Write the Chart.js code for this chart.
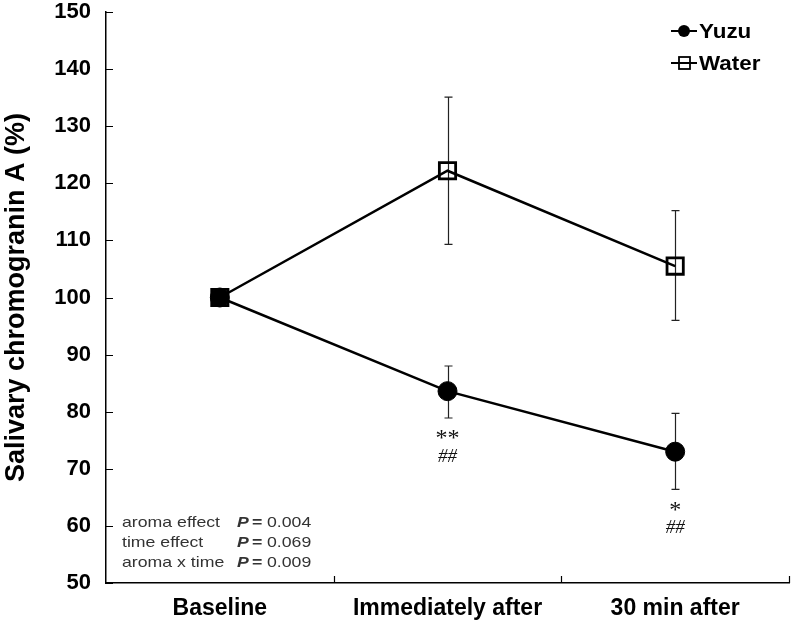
<!DOCTYPE html>
<html>
<head>
<meta charset="utf-8">
<script src="https://cdn.jsdelivr.net/npm/chart.js@4"></script>
<style>
  html, body { margin: 0; padding: 0; background: #fff; }
  #wrap { width: 792px; height: 625px; }
</style>
</head>
<body>
<div id="wrap"><canvas id="chart" width="792" height="625"></canvas></div>
<script>
const categories = ['Baseline', 'Immediately after', '30 min after'];
const yuzu = [100, 83.6, 73.0];
const yuzuErrHigh = [100, 88.0, 79.7];
const yuzuErrLow = [100, 78.9, 66.4];
const water = [100, 122.2, 105.5];
const waterErrHigh = [100, 135.1, 115.2];
const waterErrLow = [100, 109.3, 96.0];
const yuzuMarks = [[], ['**', '##'], ['*', '##']];
const statLabels = ['aroma effect', 'time effect', 'aroma x time'];
const statValues = ['0.004', '0.069', '0.009'];
const yMin = 50, yMax = 150, yStep = 10;

const FONT = '"Liberation Sans", Arial, sans-serif';
const SERIF = '"Liberation Serif", "Times New Roman", serif';

// draw text stretched horizontally (the source figure is a bit wide)
function wideText(ctx, s, x, y, sx) {
  ctx.save();
  ctx.translate(x, y);
  ctx.scale(sx, 1);
  ctx.fillText(s, 0, 0);
  const w = ctx.measureText(s).width * sx;
  ctx.restore();
  return w;
}

const extras = {
  id: 'extras',
  beforeDatasetsDraw(chart) {
    const ctx = chart.ctx;
    const x = chart.scales.x, y = chart.scales.y;
    ctx.save();
    ctx.strokeStyle = '#222';
    ctx.lineWidth = 1.2;
    const bars = [[yuzuErrHigh, yuzuErrLow], [waterErrHigh, waterErrLow]];
    bars.forEach(([hi, lo]) => {
      categories.forEach((c, i) => {
        if (hi[i] === lo[i]) return;
        const px = Math.round(x.getPixelForValue(i)) + 0.5;
        const t = y.getPixelForValue(hi[i]), b = y.getPixelForValue(lo[i]);
        ctx.beginPath();
        ctx.moveTo(px, t); ctx.lineTo(px, b);
        ctx.moveTo(px - 4, t); ctx.lineTo(px + 4, t);
        ctx.moveTo(px - 4, b); ctx.lineTo(px + 4, b);
        ctx.stroke();
      });
    });
    ctx.restore();
  },
  afterDraw(chart) {
    const ctx = chart.ctx;
    const x = chart.scales.x, y = chart.scales.y;
    const area = chart.chartArea;
    ctx.save();
    // inward ticks
    ctx.strokeStyle = '#000';
    ctx.lineWidth = 1.2;
    ctx.beginPath();
    for (let v = yMin; v <= yMax; v += yStep) {
      const py = Math.round(y.getPixelForValue(v)) + 0.5;
      ctx.moveTo(area.left, py); ctx.lineTo(area.left + 7, py);
    }
    for (let i = 1; i <= categories.length; i++) {
      const px = Math.round(x.getPixelForValue(i - 0.5)) + 0.5;
      ctx.moveTo(px, area.bottom); ctx.lineTo(px, area.bottom - 7);
    }
    ctx.stroke();

    // significance marks
    ctx.fillStyle = '#111';
    ctx.textAlign = 'center';
    ctx.textBaseline = 'middle';
    yuzuMarks.forEach((m, i) => {
      if (!m.length) return;
      const px = x.getPixelForValue(i);
      const b = y.getPixelForValue(yuzuErrLow[i]);
      m.forEach(s => {
        const star = s.indexOf('*') >= 0;
        ctx.font = (star ? '24px ' : 'italic 19px ') + SERIF;
        ctx.fillText(s, px, b + (star ? 21 : 39));
      });
    });

    // stats
    ctx.textAlign = 'left';
    ctx.fillStyle = '#333';
    statLabels.forEach((s, k) => {
      const py = 523 + k * 20;
      ctx.font = '14.5px ' + FONT;
      wideText(ctx, s, 122, py, 1.22);
      ctx.font = 'italic bold 14.5px ' + FONT;
      wideText(ctx, 'P', 237, py, 1.22);
      ctx.font = 'bold 14.5px ' + FONT;
      wideText(ctx, '=', 252, py, 1.22);
      ctx.font = '14.5px ' + FONT;
      wideText(ctx, statValues[k], 267, py, 1.22);
    });

    // legend
    const items = [['Yuzu', 'circle', 31], ['Water', 'rect', 63]];
    items.forEach(([label, style, py]) => {
      ctx.strokeStyle = '#000';
      ctx.lineWidth = 2;
      ctx.beginPath();
      ctx.moveTo(671, py); ctx.lineTo(697, py);
      ctx.stroke();
      if (style === 'circle') {
        ctx.fillStyle = '#000';
        ctx.beginPath();
        ctx.arc(684, py, 6, 0, Math.PI * 2);
        ctx.fill();
      } else {
        ctx.lineWidth = 1.8;
        ctx.strokeRect(679, py - 6, 11, 12);
      }
      ctx.fillStyle = '#000';
      ctx.font = 'bold 20px ' + FONT;
      ctx.textAlign = 'left';
      wideText(ctx, label, 699, py + 1, 1.12);
    });
    ctx.restore();
  }
};

new Chart(document.getElementById('chart'), {
  type: 'line',
  data: {
    labels: categories,
    datasets: [
      {
        label: 'Yuzu',
        data: yuzu,
        borderColor: '#000',
        borderWidth: 2.5,
        pointStyle: 'circle',
        pointRadius: 9.5,
        pointBorderWidth: 1,
        pointBackgroundColor: '#000',
        pointBorderColor: '#000',
        tension: 0,
        clip: false,
        order: 2
      },
      {
        label: 'Water',
        data: water,
        borderColor: '#000',
        borderWidth: 2.5,
        pointStyle: 'rect',
        pointRadius: 11.5,
        pointBorderWidth: 2.8,
        pointBackgroundColor: 'rgba(0,0,0,0)',
        pointBorderColor: '#000',
        tension: 0,
        clip: false,
        order: 1
      }
    ]
  },
  options: {
    responsive: false,
    animation: false,
    layout: { autoPadding: false, padding: { top: 12, right: 3, left: 0, bottom: 0 } },
    plugins: { legend: { display: false }, tooltip: { enabled: false } },
    scales: {
      x: {
        type: 'category',
        offset: true,
        grid: { display: false, drawTicks: false },
        border: { color: '#000', width: 1.5 },
        ticks: { color: '#000', font: { family: FONT, size: 23, weight: 'bold' }, padding: 12, maxRotation: 0 },
        afterFit: s => { s.height = 42; s.paddingLeft = 0; s.paddingRight = 0; }
      },
      y: {
        min: yMin,
        max: yMax,
        grid: { display: false, drawTicks: false },
        border: { color: '#000', width: 1.5 },
        ticks: { stepSize: yStep, color: '#000', font: { family: FONT, size: 22, weight: 'bold' }, padding: 15 },
        title: {
          display: true,
          text: 'Salivary chromogranin A (%)',
          color: '#000',
          font: { family: FONT, size: 27, weight: 'bold' },
          padding: { top: 0, bottom: 0 }
        },
        afterFit: s => { s.width = 106; s.paddingTop = 0; s.paddingBottom = 0; }
      }
    }
  },
  plugins: [extras]
});
</script>
</body>
</html>
